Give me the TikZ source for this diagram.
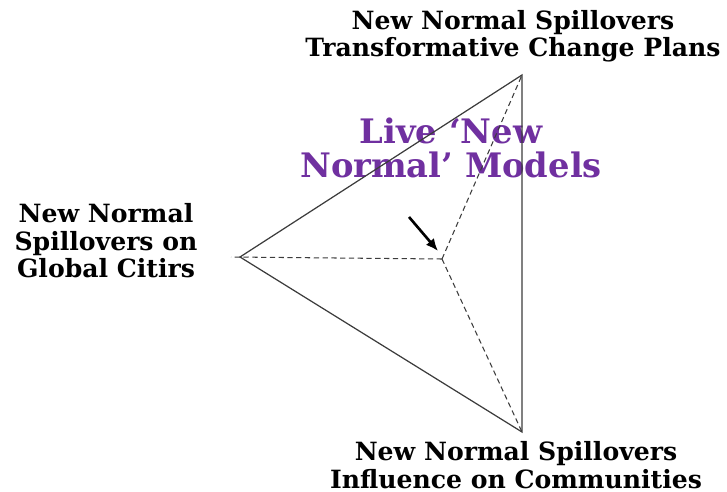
\documentclass[tikz,border=0pt]{standalone}
\usepackage{fontspec}
\setmainfont{DejaVu Serif}
\usepackage{xcolor}
\usetikzlibrary{arrows.meta, positioning}
\definecolor{ModelPurple}{HTML}{7030A0}
\definecolor{EdgeGray}{RGB}{60,60,60}
\tikzset{
  >=latex,
  % etichette dei vertici
  corner label/.style={font=\bfseries\fontsize{14.3}{15.6}\selectfont,align=center,inner sep=0},
  model label/.style={font=\bfseries\fontsize{19.2}{19.6}\selectfont,align=center,text=ModelPurple,inner sep=0},
  % lati
  edge solid/.style={EdgeGray,line width=0.7pt},
  edge dashed/.style={EdgeGray,line width=0.6pt,dash pattern=on 3pt off 2pt},
  pointer/.style={-{Latex[length=7,width=6]},line width=1.5pt}
}
\begin{document}
\begin{tikzpicture}[x=0.02cm,y=-0.02cm]
  \useasboundingbox (0,0) rectangle (727,492);
  % vertici
  \coordinate (vTop) at (522,75);
  \coordinate (vBot) at (522,432);
  \coordinate (vLeft) at (240,257);
  \coordinate (vTail) at (231,257);
  \coordinate (vCtr) at (442,259);
  \coordinate (arrStart) at (409,217);
  \coordinate (arrEnd) at (438,251);
  % testi
  \node[corner label] (lblTop) at (513,36) {New Normal Spillovers\\Transformative Change Plans};
  \node[corner label] (lblLeft) at (106,241) {New Normal\\Spillovers on\\Global Citirs};
  \node[corner label] (lblBot) at (516,465) {New Normal Spillovers\\Influence on Communities};
  \node[model label] (lblModel) at (451,148) {Live ‘New\\Normal’ Models};
  % triangolo
  \draw[edge solid] (vLeft) -- (vTop) -- (vBot) -- cycle;
  \draw[edge dashed] (vCtr) -- (vTop);
  \draw[edge dashed] (vCtr) -- (vBot);
  \draw[edge dashed] (vCtr) -- (vTail);
  \draw[pointer] (arrStart) -- (arrEnd);
\end{tikzpicture}
\end{document}
